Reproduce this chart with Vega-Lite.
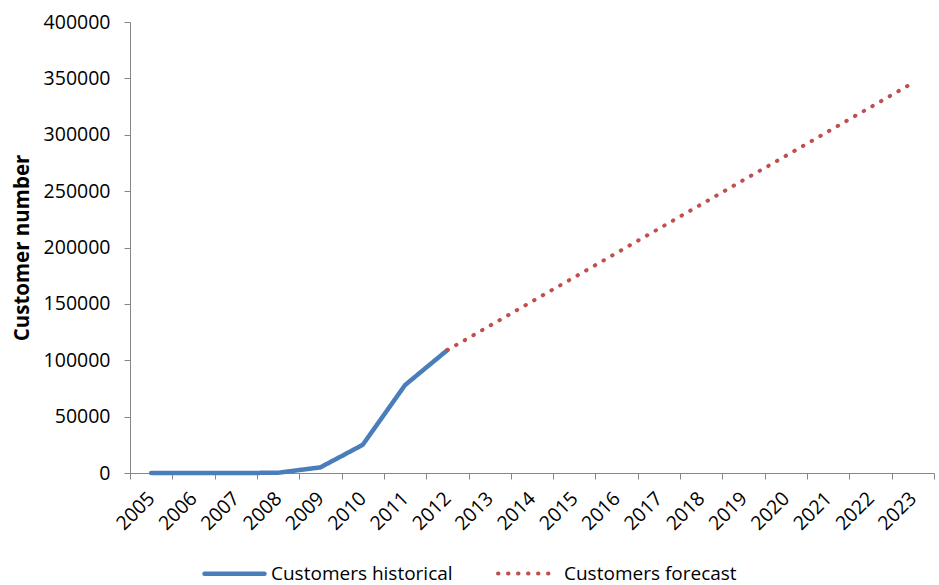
{
  "$schema": "https://vega.github.io/schema/vega-lite/v6.json",
  "width": 804,
  "height": 451,
  "autosize": "none",
  "padding": {"left": 130, "top": 22, "right": 5, "bottom": 112},
  "background": "white",
  "config": {
    "view": {"stroke": null},
    "font": "Open Sans",
    "axis": {
      "grid": false,
      "domainColor": "#868686",
      "tickColor": "#868686",
      "labelColor": "#000000",
      "labelFont": "Open Sans",
      "labelFontSize": 19.5,
      "tickSize": 6
    }
  },
  "data": {
    "values": [
      {"year": "2005", "customers": 0, "series": "Customers historical"},
      {"year": "2006", "customers": 0, "series": "Customers historical"},
      {"year": "2007", "customers": 0, "series": "Customers historical"},
      {"year": "2008", "customers": 200, "series": "Customers historical"},
      {"year": "2009", "customers": 5000, "series": "Customers historical"},
      {"year": "2010", "customers": 25000, "series": "Customers historical"},
      {"year": "2011", "customers": 78000, "series": "Customers historical"},
      {"year": "2012", "customers": 109000, "series": "Customers historical"},
      {"year": "2012", "customers": 109000, "series": "Customers forecast"},
      {"year": "2023", "customers": 346000, "series": "Customers forecast"}
    ]
  },
  "mark": {"type": "line", "strokeCap": "round", "strokeJoin": "round"},
  "encoding": {
    "x": {
      "field": "year",
      "type": "ordinal",
      "scale": {
        "type": "band",
        "domain": ["2005","2006","2007","2008","2009","2010","2011","2012","2013","2014","2015","2016","2017","2018","2019","2020","2021","2022","2023"],
        "paddingInner": 0,
        "paddingOuter": 0
      },
      "axis": {
        "title": null,
        "labelAngle": -45,
        "labelAlign": "right",
        "labelBaseline": "middle",
        "labelPadding": 16,
        "bandPosition": 0,
        "tickBand": "extent",
        "labelOverlap": false
      }
    },
    "y": {
      "field": "customers",
      "type": "quantitative",
      "scale": {"domain": [0, 400000], "nice": false},
      "axis": {
        "title": "Customer number",
        "titleFontSize": 20.5,
        "titleFontWeight": "bold",
        "titleColor": "#000000",
        "titlePadding": 11,
        "values": [0,50000,100000,150000,200000,250000,300000,350000,400000],
        "format": "d",
        "labelPadding": 14
      }
    },
    "color": {
      "field": "series",
      "type": "nominal",
      "scale": {
        "domain": ["Customers historical", "Customers forecast"],
        "range": ["#4A7EBB", "#C0504D"]
      },
      "legend": {
        "title": null,
        "orient": "none",
        "direction": "horizontal",
        "legendX": 72,
        "legendY": 519,
        "symbolType": "stroke",
        "symbolSize": 3600,
        "symbolStrokeWidth": 4,
        "labelFontSize": 19,
        "labelLimit": 400,
        "labelColor": "#000000",
        "columnPadding": 37,
        "labelOffset": 4,
        "encode": {
          "symbols": {"update": {"strokeCap": {"value": "round"}}}
        }
      }
    },
    "strokeDash": {
      "field": "series",
      "type": "nominal",
      "scale": {
        "domain": ["Customers historical", "Customers forecast"],
        "range": [[1, 0], [0.5, 9.5]]
      },
      "legend": null
    },
    "strokeWidth": {
      "field": "series",
      "type": "nominal",
      "scale": {
        "domain": ["Customers historical", "Customers forecast"],
        "range": [4.5, 4]
      },
      "legend": null
    }
  }
}
